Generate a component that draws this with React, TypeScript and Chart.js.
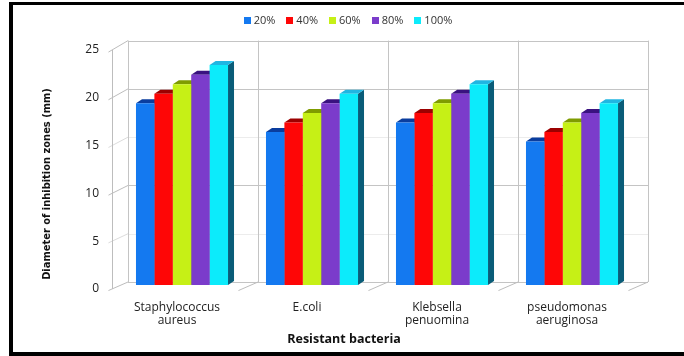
import { useEffect, useRef } from "react";
import { Chart, registerables } from "chart.js";

Chart.register(...registerables);

// Bacteria tested (x categories)
const categories: (string | string[])[] = [
  ["Staphylococcus", "aureus"],
  "E.coli",
  ["Klebsella", "penuomina"],
  ["pseudomonas", "aeruginosa"],
];

// Extract concentrations (series)
const seriesLabels = ["20%", "40%", "60%", "80%", "100%"];

// Diameter of inhibition zones (mm) per concentration
const conc20 = [19, 16, 17, 15];
const conc40 = [20, 17, 18, 16];
const conc60 = [21, 18, 19, 17];
const conc80 = [22, 19, 20, 18];
const conc100 = [23, 20, 21, 19];

const yMin = 0;
const yMax = 25;
const yStep = 5;
const yGridValues = [0, 5, 10, 15, 20, 25];

const yTitle = "Diameter of inhibition zones (mm)";
const xTitle = "Resistant bacteria";

const frontColors = ["#1479f0", "#fe0606", "#c6f016", "#7b3ccb", "#0cebfb"];
const topColors = ["#0a3d9e", "#9c0000", "#7f9c00", "#3a1280", "#20b6e2"];
const sideColors = ["#0b4a98", "#8a0000", "#6d8a00", "#3c1878", "#0a5c78"];

const LABEL_FONT = "'Open Sans', 'Noto Sans', sans-serif";
const NARROW_FONT = "'Liberation Sans Narrow', 'DejaVu Sans Condensed', 'Liberation Sans', sans-serif";

// depth offsets relative to the bar plane
const BACK_DX = 11;
const BACK_DY = -3;
const BACK_K = 1.01;
const FRONT_DX = -5;
const FRONT_DY = 4;
const BAR_DX = 6;
const BAR_DY = 4;

function line(ctx: CanvasRenderingContext2D, x1: number, y1: number, x2: number, y2: number) {
  ctx.beginPath();
  ctx.moveTo(x1, y1);
  ctx.lineTo(x2, y2);
  ctx.stroke();
}

const wall3d = {
  id: "wall3d",
  beforeDraw(chart: any) {
    const { ctx, width, height } = chart;
    ctx.save();
    ctx.fillStyle = "#ffffff";
    ctx.fillRect(0, 0, width, height);
    // outer frame
    ctx.fillStyle = "#000000";
    ctx.fillRect(9, 2, 4, height - 4);
    ctx.fillRect(9, 2, width - 9, 3);
    ctx.fillRect(9, height - 4, width - 9, 4);
    ctx.restore();
  },
  beforeDatasetsDraw(chart: any) {
    const { ctx, chartArea: a, scales } = chart;
    const sy = scales.y;
    const y0 = sy.getPixelForValue(0);
    const backY = (v: number) => y0 + BACK_DY - (y0 - sy.getPixelForValue(v)) * BACK_K;
    const frontY = (v: number) => sy.getPixelForValue(v) + FRONT_DY;
    const n = categories.length;
    const cw = (a.right - a.left) / n;
    const bl = a.left + BACK_DX;
    const br = a.right + BACK_DX;
    const fl = a.left + FRONT_DX;

    ctx.save();
    ctx.lineWidth = 1;

    // back wall horizontal gridlines
    for (const v of yGridValues) {
      const yy = Math.round(backY(v)) + 0.5;
      ctx.strokeStyle = v === 5 || v === 15 ? "#ececec" : "#c4c4c4";
      line(ctx, bl, yy, br, yy);
    }
    // back wall vertical lines
    ctx.strokeStyle = "#c4c4c4";
    for (let k = 0; k <= n; k++) {
      const xx = Math.round(a.left + k * cw + BACK_DX) + 0.5;
      line(ctx, xx, backY(yMax), xx, backY(0));
    }
    // left side wall lines and front axis
    for (const v of yGridValues) {
      const fx = fl, fy = frontY(v);
      const bx = bl, by = backY(v);
      const ex = fx - (bx - fx) * 0.22;
      const ey = fy - (by - fy) * 0.22;
      ctx.strokeStyle = v === 5 || v === 15 ? "#dcdcdc" : "#bdbdbd";
      line(ctx, ex, ey, bx, by);
    }
    ctx.strokeStyle = "#bdbdbd";
    line(ctx, Math.round(fl) + 0.5, frontY(yMax), Math.round(fl) + 0.5, frontY(0));
    // floor diagonals at category boundaries
    for (let k = 1; k <= n; k++) {
      const xb = a.left + k * cw;
      const fx = xb + FRONT_DX, fy = frontY(0);
      const bx = xb + BACK_DX, by = backY(0);
      const ex = fx - (bx - fx) * 0.22;
      const ey = fy - (by - fy) * 0.22;
      line(ctx, ex, ey, bx, by);
    }

    // bar tops and sides (fronts are drawn by the bar controller afterwards)
    const nd = chart.data.datasets.length;
    for (let j = 0; j < n; j++) {
      for (let i = 0; i < nd; i++) {
        const el = chart.getDatasetMeta(i).data[j];
        if (!el) continue;
        const { x, y, base, width } = el.getProps(["x", "y", "base", "width"], true);
        const l = x - width / 2;
        const r = x + width / 2;
        // side face
        ctx.fillStyle = sideColors[i];
        ctx.beginPath();
        ctx.moveTo(r, y);
        ctx.lineTo(r + BAR_DX, y - BAR_DY);
        ctx.lineTo(r + BAR_DX, base - BAR_DY);
        ctx.lineTo(r, base);
        ctx.closePath();
        ctx.fill();
        // top face
        ctx.fillStyle = topColors[i];
        ctx.beginPath();
        ctx.moveTo(l, y);
        ctx.lineTo(l + BAR_DX, y - BAR_DY);
        ctx.lineTo(r + BAR_DX, y - BAR_DY);
        ctx.lineTo(r, y);
        ctx.closePath();
        ctx.fill();
      }
    }
    ctx.restore();
  },
  afterDraw(chart: any) {
    const { ctx } = chart;
    ctx.save();
    // legend
    ctx.font = `11px ${LABEL_FONT}`;
    ctx.textBaseline = "middle";
    ctx.textAlign = "left";
    const box = 7, gapText = 3, gapItem = 11;
    const widths = seriesLabels.map((s) => box + gapText + ctx.measureText(s).width);
    const total = widths.reduce((s, w) => s + w, 0) + gapItem * (widths.length - 1);
    let lx = 348 - total / 2;
    const ly = 20;
    seriesLabels.forEach((s, i) => {
      ctx.fillStyle = frontColors[i];
      ctx.fillRect(Math.round(lx), ly - 3, box, box);
      ctx.fillStyle = "#333333";
      ctx.fillText(s, lx + box + gapText, ly + 0.5);
      lx += widths[i] + gapItem;
    });
    // axis titles
    ctx.fillStyle = "#111111";
    ctx.textAlign = "center";
    ctx.font = `bold 12.5px ${LABEL_FONT}`;
    ctx.fillText(xTitle, 344, 339);
    ctx.translate(47, 184);
    ctx.rotate(-Math.PI / 2);
    ctx.font = `bold 11px ${NARROW_FONT}`;
    ctx.fillText(yTitle, 0, 0);
    ctx.restore();
  },
};

export default function App() {
  const ref = useRef<HTMLCanvasElement | null>(null);

  useEffect(() => {
    if (!ref.current) return;
    const seriesValues = [conc20, conc40, conc60, conc80, conc100];
    const chart = new Chart(ref.current, {
      type: "bar",
      data: {
        labels: categories,
        datasets: seriesLabels.map((label, i) => ({
          label,
          data: seriesValues[i],
          backgroundColor: frontColors[i],
          borderWidth: 0,
          categoryPercentage: 0.708,
          barPercentage: 1,
        })),
      },
      options: {
        animation: false,
        responsive: false,
        maintainAspectRatio: false,
        devicePixelRatio: 1,
        layout: { padding: { left: 0, right: 47, top: 46, bottom: 0 } },
        plugins: {
          legend: { display: false },
          tooltip: { enabled: false },
        },
        scales: {
          x: {
            grid: { display: false, drawTicks: false },
            border: { display: false },
            ticks: {
              padding: 16,
              labelOffset: -5,
              maxRotation: 0,
              autoSkip: false,
              color: "#222222",
              font: { family: LABEL_FONT, size: 12, lineHeight: 1.1 },
            },
            afterFit: (s: any) => {
              s.height = 71;
            },
          },
          y: {
            min: yMin,
            max: yMax,
            grid: { display: false, drawTicks: false },
            border: { display: false },
            ticks: {
              stepSize: yStep,
              padding: 18,
              labelOffset: 4,
              color: "#222222",
              font: { family: LABEL_FONT, size: 12 },
            },
            afterFit: (s: any) => {
              s.width = 117;
            },
          },
        },
      },
      plugins: [wall3d],
    });
    return () => chart.destroy();
  }, []);

  return (
    <div style={{ position: "fixed", left: 0, top: 0, width: 684, height: 356, background: "#fff" }}>
      <canvas ref={ref} width={684} height={356} style={{ display: "block", width: 684, height: 356 }} />
    </div>
  );
}
